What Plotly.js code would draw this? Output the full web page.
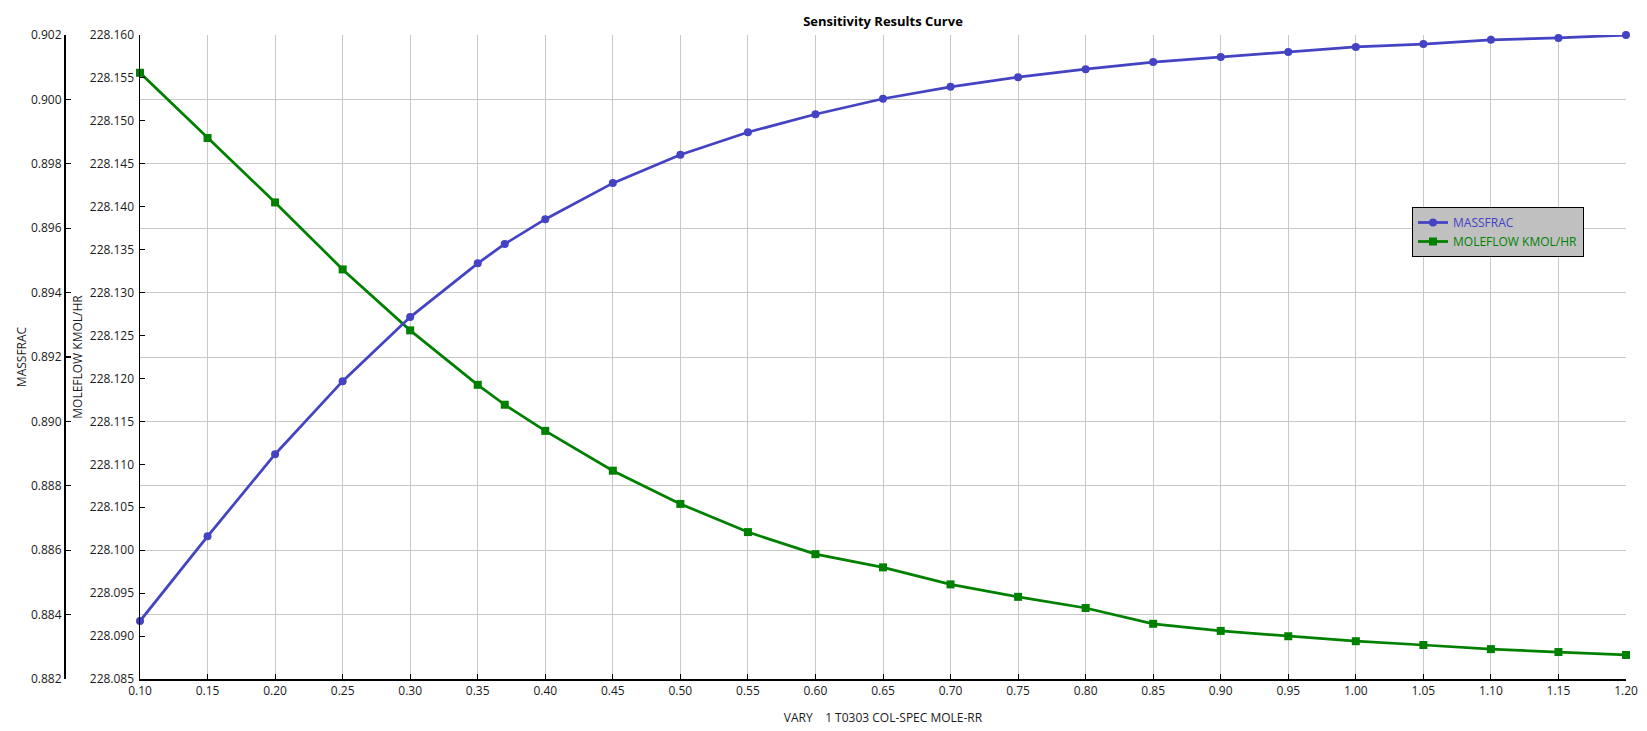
<!DOCTYPE html>
<html>
<head>
<meta charset="utf-8">
<script src="https://cdn.plot.ly/plotly-3.0.1.min.js"></script>
<style>html,body{margin:0;padding:0;background:#fff;}#chart{width:1647px;height:731px;}</style>
</head>
<body>
<div id="chart"></div>
<script>
// Data
var varyRR = [0.10,0.15,0.20,0.25,0.30,0.35,0.37,0.40,0.45,0.50,0.55,0.60,0.65,0.70,0.75,0.80,0.85,0.90,0.95,1.00,1.05,1.10,1.15,1.20];
var massfrac = [0.88380,0.88643,0.88898,0.89125,0.89324,0.89491,0.89551,0.89628,0.89740,0.89828,0.89898,0.89954,0.90002,0.90039,0.90069,0.90094,0.90116,0.90132,0.90147,0.90163,0.90172,0.90185,0.90191,0.90200];
var moleflow = [228.1556,228.1480,228.1405,228.1327,228.1256,228.11926,228.11694,228.11390,228.10926,228.10539,228.10211,228.09954,228.09800,228.09602,228.09457,228.09327,228.09143,228.09060,228.08998,228.08940,228.08896,228.08848,228.08814,228.08780];
var seriesNames = ['MASSFRAC','MOLEFLOW KMOL/HR'];
var chartTitle = 'Sensitivity Results Curve';
var xTitle = 'VARY\u00a0\u00a0\u00a0\u00a01 T0303 COL-SPEC MOLE-RR';

var blue = '#4343c4';
var green = '#008000';
var fontFam = '"Open Sans", "Noto Sans", sans-serif';
var tickFont = {family: fontFam, size: 12, color: '#1a1a1a'};

var traces = [
  {
    x: varyRR, y: massfrac, yaxis: 'y2', type: 'scatter', mode: 'lines+markers',
    name: '<span style="color:' + blue + '">' + seriesNames[0] + '</span>',
    line: {color: blue, width: 2.75},
    marker: {symbol: 'circle', size: 8, color: blue},
    cliponaxis: false
  },
  {
    x: varyRR, y: moleflow, yaxis: 'y', type: 'scatter', mode: 'lines+markers',
    name: '<span style="color:' + green + '">' + seriesNames[1] + '</span>',
    line: {color: green, width: 2.75},
    marker: {symbol: 'square', size: 8, color: green},
    cliponaxis: false
  }
];

var layout = {
  width: 1647, height: 731,
  margin: {l: 0, r: 21, t: 35, b: 52, pad: 0},
  paper_bgcolor: '#ffffff', plot_bgcolor: '#ffffff',
  font: {family: fontFam, size: 12, color: '#1a1a1a'},
  showlegend: true,
  title: {
    text: chartTitle, xref: 'container', x: 883/1647, xanchor: 'center',
    yref: 'container', y: 1 - 21/731, yanchor: 'middle',
    font: {family: fontFam, size: 13, color: '#000', weight: 'bold'}
  },
  xaxis: {
    domain: [140/1626, 1],
    range: [0.1, 1.2], tick0: 0.1, dtick: 0.05, tickformat: '.2f',
    showgrid: true, gridcolor: '#c8c8c8', gridwidth: 1, zeroline: false,
    showline: true, linecolor: '#000', linewidth: 1.5,
    ticks: 'inside', ticklen: 5, tickcolor: '#000', tickwidth: 1,
    tickfont: tickFont,
    title: {text: xTitle, font: {family: fontFam, size: 12, color: '#1a1a1a'}, standoff: 15}
  },
  yaxis: {
    range: [228.085, 228.160], tick0: 228.085, dtick: 0.005, tickformat: '.3f',
    showgrid: false, zeroline: false,
    showline: true, linecolor: '#000', linewidth: 1.5,
    ticks: 'inside', ticklen: 5, tickcolor: '#000', tickwidth: 1,
    tickfont: tickFont, ticklabelstandoff: 2,
    title: {text: seriesNames[1], font: {family: fontFam, size: 12, color: '#1a1a1a'}, standoff: 4}
  },
  yaxis2: {
    overlaying: 'y', side: 'left', anchor: 'free', position: 64/1626,
    range: [0.882, 0.902], tick0: 0.882, dtick: 0.002, tickformat: '.3f',
    showgrid: true, gridcolor: '#c8c8c8', gridwidth: 1, zeroline: false,
    showline: true, linecolor: '#000', linewidth: 1.5,
    ticks: 'inside', ticklen: 5, tickcolor: '#000', tickwidth: 1.2,
    tickfont: tickFont, ticklabelstandoff: 0,
    title: {text: seriesNames[0], font: {family: fontFam, size: 12, color: '#1a1a1a'}, standoff: 0}
  },
  legend: {
    x: 1412/1626, xanchor: 'left', xref: 'paper',
    y: 1 - (207-35)/644, yanchor: 'top', yref: 'paper',
    bgcolor: '#c0c0c0', bordercolor: '#000', borderwidth: 1,
    font: {family: fontFam, size: 12, color: '#1a1a1a'},
    tracegroupgap: 0
  }
};

Plotly.newPlot('chart', traces, layout, {displayModeBar: false, staticPlot: true});
</script>
</body>
</html>
